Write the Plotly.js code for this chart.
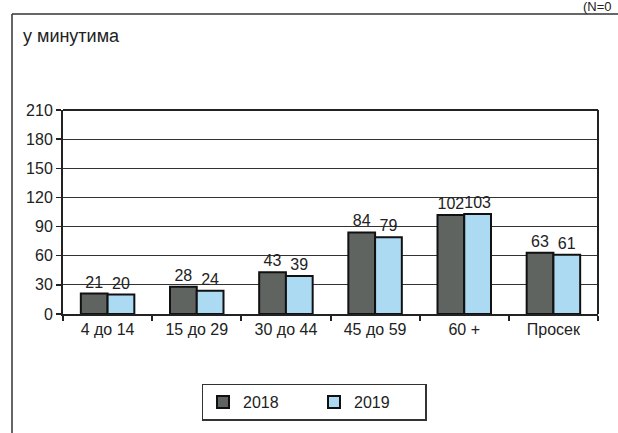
<!DOCTYPE html>
<html><head><meta charset="utf-8">
<script src="https://cdn.plot.ly/plotly-3.0.1.min.js"></script>
<style>html,body{margin:0;padding:0;background:#fff}</style>
</head><body><div id="c" style="width:618px;height:433px"></div>
<script>
const categories = ["4 до 14", "15 до 29", "30 до 44", "45 до 59", "60 +", "Просек"];
const series2018 = [21, 28, 43, 84, 102, 63];
const series2019 = [20, 24, 39, 79, 103, 61];
const yTicks = [0, 30, 60, 90, 120, 150, 180, 210];

const W = 618, H = 433, L = 63, R = 20, T = 110, B = 115;
const pw = W - L - R, ph = H - T - B;
const px = x => (x - L) / pw;
const py = y => (H - B - y) / ph;
const font = "Liberation Sans, Arial, sans-serif";

const traces = [
  {type: "bar", name: "2018", x: categories, y: series2018, text: series2018.map(String),
   textposition: "outside", cliponaxis: false,
   textfont: {family: font, size: 16, color: "#222"},
   marker: {color: "#5f6461", line: {color: "#111", width: 2}}},
  {type: "bar", name: "2019", x: categories, y: series2019, text: series2019.map(String),
   textposition: "outside", cliponaxis: false,
   textfont: {family: font, size: 16, color: "#222"},
   marker: {color: "#acdaf3", line: {color: "#111", width: 2}}}
];

const layout = {
  width: W, height: H,
  margin: {l: L, r: R, t: T, b: B},
  paper_bgcolor: "#fff", plot_bgcolor: "#fff",
  barmode: "group", bargap: 0.4, bargroupgap: 0,
  font: {family: font, color: "#222", size: 16},
  showlegend: true,
  legend: {orientation: "h", x: px(314), xanchor: "center", y: py(389), yanchor: "top",
           bordercolor: "#333", borderwidth: 1.5, font: {family: font, size: 16, color: "#222"},
           entrywidth: 66, traceorder: "normal", itemwidth: 30},
  xaxis: {type: "category", showline: true, linecolor: "#222", linewidth: 2,
          ticks: "outside", tickson: "boundaries", ticklen: 5, tickcolor: "#222", tickwidth: 2,
          showgrid: false, tickfont: {family: font, size: 16, color: "#222"}, fixedrange: true},
  yaxis: {range: [0, 210], tickvals: yTicks, ticktext: yTicks.map(String),
          showline: true, linecolor: "#222", linewidth: 2, mirror: false,
          ticks: "outside", ticklen: 5, tickcolor: "#222", tickwidth: 1.5,
          showgrid: true, gridcolor: "#333", gridwidth: 1.2, zeroline: false,
          tickfont: {family: font, size: 16, color: "#222"}, fixedrange: true},
  shapes: [
    {type: "line", xref: "paper", yref: "paper", x0: px(12), x1: px(620), y0: py(12), y1: py(12), line: {color: "#333", width: 1.5}},
    {type: "line", xref: "paper", yref: "paper", x0: px(12), x1: px(12), y0: py(12), y1: py(440), line: {color: "#333", width: 1.5}},
    {type: "line", xref: "paper", yref: "paper", x0: 0, x1: 1, y0: 1, y1: 1, line: {color: "#222", width: 2}},
    {type: "line", xref: "paper", yref: "paper", x0: 1, x1: 1, y0: 0, y1: 1, line: {color: "#222", width: 2}}
  ],
  annotations: [
    {xref: "paper", yref: "paper", x: px(21), y: py(35), xanchor: "left", yanchor: "middle",
     text: "у минутима", showarrow: false, font: {family: font, size: 18, color: "#222"}},
    {xref: "paper", yref: "paper", x: px(614), y: py(4), xanchor: "right", yanchor: "middle",
     text: "(N=0", showarrow: false, font: {family: font, size: 13, color: "#222"}}
  ]
};

Plotly.newPlot("c", traces, layout, {displayModeBar: false, staticPlot: true});
</script></body></html>
